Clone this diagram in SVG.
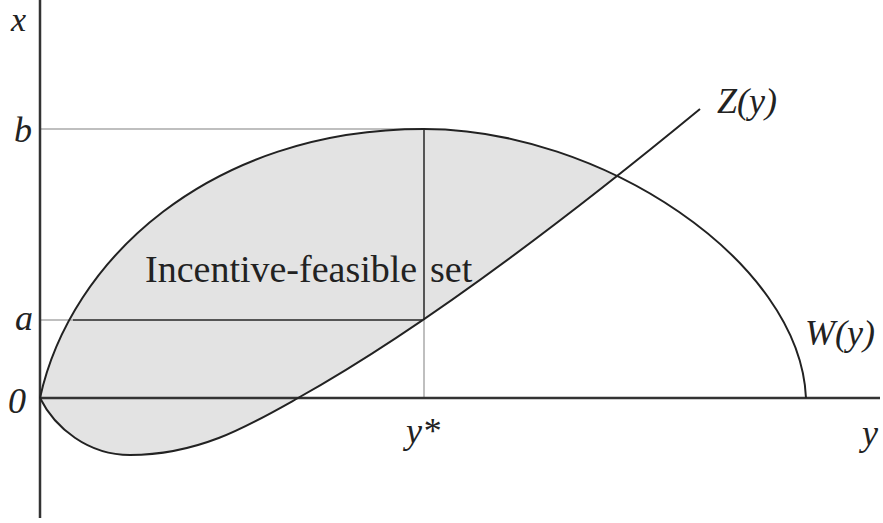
<svg xmlns="http://www.w3.org/2000/svg" width="883" height="523" viewBox="0 0 883 523">
<style>
.lbl{font-family:"Liberation Serif","DejaVu Serif",serif;font-style:italic;font-size:36px;fill:#222}
.set{font-family:"Liberation Serif","DejaVu Serif",serif;font-size:38px;fill:#222}
.curve{fill:none;stroke:#222;stroke-width:2}
.axis{stroke:#333;stroke-width:2.5;fill:none}
.guide{stroke:#aaa;stroke-width:1.5}
.inner{stroke:#555;stroke-width:2}
</style>
<rect width="883" height="523" fill="#fff"/>
<g id="region">
<path d="M40,398 C70,260 210,129 424,129 C489.1,129 557.5,146.9 617,177 C508.2,261.8 394.4,344.3 298,398 C250,425 200,455 130,455 C88,455 55,428 40,398 Z" fill="#e3e3e3"/>
</g>
<g id="guides">
<line class="guide" x1="40" y1="129" x2="424" y2="129"/>
<line class="guide" x1="40" y1="320" x2="73" y2="320"/>
<line class="inner" x1="73" y1="320" x2="422" y2="320"/>
<line class="inner" x1="424" y1="129" x2="424" y2="320"/>
<line class="guide" x1="424" y1="320" x2="424" y2="398"/>
</g>
<g id="axes">
<line class="axis" x1="40" y1="0" x2="40" y2="518"/>
<line class="axis" x1="40" y1="398" x2="880" y2="398"/>
</g>
<g id="connectors">
<path id="W" class="curve" d="M40,398 C70,260 210,129 424,129 C600,129 800,260 806,398"/>
<path id="Z" class="curve" d="M40,398 C55,428 88,455 130,455 C200,455 250,425 298,398 C420,330 570,216 700,109"/>
</g>
<g id="labels">
<text class="lbl" x="11" y="31" style="font-size:34px">x</text>
<text class="lbl" x="14" y="142">b</text>
<text class="lbl" x="15" y="330">a</text>
<text class="lbl" x="8" y="413">0</text>
<text class="lbl" x="406" y="443">y*</text>
<text class="lbl" x="862" y="445">y</text>
<text class="lbl" x="717" y="113">Z(y)</text>
<text class="lbl" x="805" y="345">W(y)</text>
<text class="set" x="145" y="282">Incentive-feasible</text>
<text class="set" x="430" y="282">set</text>
</g>
</svg>
